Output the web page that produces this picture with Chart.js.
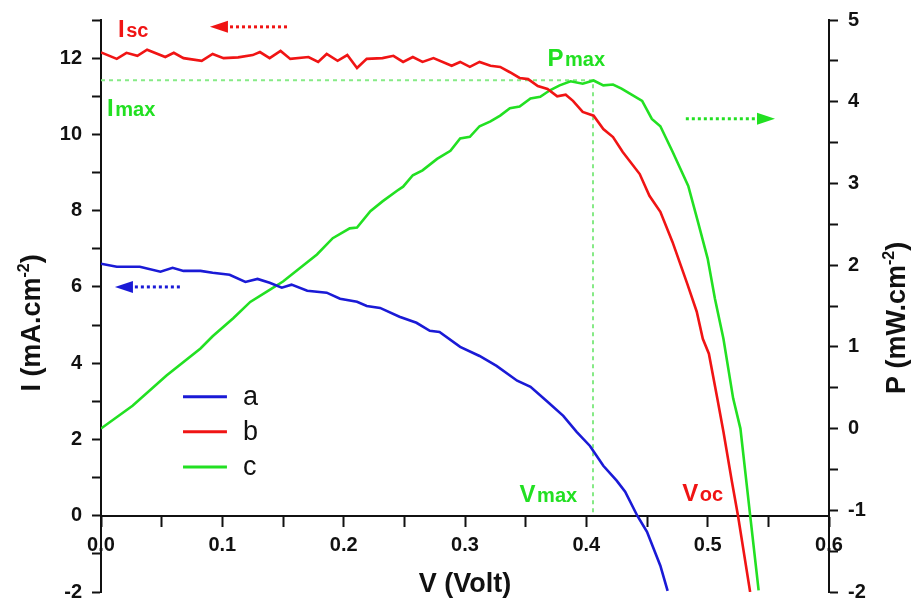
<!DOCTYPE html>
<html>
<head>
<meta charset="utf-8">
<script src="https://cdn.jsdelivr.net/npm/chart.js@4.4.1/dist/chart.umd.min.js"></script>
<style>
  html, body { margin: 0; padding: 0; background: #fff; }
</style>
</head>
<body>
<canvas id="ivChart" width="911" height="598"></canvas>
<script>
// sample a : I-V curve (left axis)
const voltsA = [0.000, 0.013, 0.032, 0.049, 0.059, 0.068, 0.082, 0.092, 0.106, 0.119, 0.129, 0.139, 0.149, 0.157, 0.170, 0.186, 0.197, 0.211, 0.219, 0.230, 0.246, 0.260, 0.271, 0.279, 0.296, 0.312, 0.326, 0.343, 0.354, 0.368, 0.381, 0.392, 0.403, 0.414, 0.425, 0.432, 0.442, 0.450, 0.461, 0.467];
const currentA = [6.61, 6.53, 6.53, 6.40, 6.50, 6.42, 6.42, 6.37, 6.32, 6.13, 6.21, 6.11, 5.98, 6.06, 5.90, 5.85, 5.69, 5.61, 5.50, 5.45, 5.22, 5.06, 4.85, 4.82, 4.43, 4.19, 3.93, 3.54, 3.38, 2.99, 2.62, 2.20, 1.83, 1.31, 0.92, 0.63, 0.00, -0.42, -1.31, -1.97];

// sample b : I-V curve (left axis)
const voltsB = [0.000, 0.013, 0.021, 0.030, 0.038, 0.053, 0.060, 0.068, 0.083, 0.092, 0.101, 0.113, 0.125, 0.131, 0.139, 0.148, 0.156, 0.171, 0.179, 0.186, 0.195, 0.203, 0.211, 0.219, 0.232, 0.241, 0.249, 0.257, 0.265, 0.274, 0.289, 0.296, 0.304, 0.312, 0.321, 0.329, 0.337, 0.345, 0.352, 0.360, 0.368, 0.376, 0.383, 0.389, 0.397, 0.406, 0.414, 0.422, 0.430, 0.444, 0.452, 0.461, 0.471, 0.483, 0.491, 0.496, 0.501, 0.508, 0.513, 0.520, 0.525, 0.535];
const currentB = [12.15, 11.98, 12.14, 12.06, 12.22, 12.03, 12.14, 12.00, 11.93, 12.11, 12.00, 12.02, 12.08, 12.16, 12.00, 12.19, 11.98, 12.03, 11.90, 12.11, 11.93, 12.08, 11.74, 11.98, 12.00, 12.06, 11.90, 12.03, 11.90, 12.00, 11.80, 11.90, 11.77, 11.90, 11.80, 11.77, 11.63, 11.48, 11.45, 11.27, 11.19, 11.00, 11.04, 10.88, 10.59, 10.49, 10.14, 9.93, 9.54, 8.96, 8.39, 7.97, 7.18, 6.10, 5.35, 4.64, 4.25, 3.07, 2.20, 0.89, 0.00, -2.00];

// sample c : P-V curve (right axis)
const voltsC = [0.000, 0.026, 0.054, 0.082, 0.092, 0.109, 0.123, 0.137, 0.150, 0.178, 0.191, 0.205, 0.211, 0.222, 0.232, 0.244, 0.249, 0.257, 0.265, 0.277, 0.288, 0.296, 0.304, 0.312, 0.321, 0.329, 0.337, 0.345, 0.354, 0.362, 0.370, 0.378, 0.387, 0.397, 0.406, 0.414, 0.422, 0.429, 0.438, 0.446, 0.454, 0.461, 0.471, 0.484, 0.492, 0.500, 0.506, 0.513, 0.521, 0.527, 0.535, 0.542];
const powerC = [0.00, 0.28, 0.65, 0.98, 1.13, 1.35, 1.55, 1.68, 1.80, 2.13, 2.33, 2.45, 2.46, 2.66, 2.78, 2.91, 2.96, 3.10, 3.16, 3.30, 3.40, 3.55, 3.57, 3.70, 3.76, 3.83, 3.92, 3.94, 4.04, 4.06, 4.14, 4.20, 4.25, 4.22, 4.26, 4.20, 4.21, 4.16, 4.08, 4.01, 3.79, 3.70, 3.39, 2.97, 2.53, 2.08, 1.59, 1.10, 0.37, 0.00, -1.06, -1.98];

// maximum power point
const vMax = 0.4055;
const iMax = 11.42;

const BLUE = '#1a1ad6';
const RED = '#f01414';
const GREEN = '#22e022';
const LIGHT_GREEN = '#86ea86';
const FONT = '"Liberation Sans", Arial, sans-serif';

// text labels, positions in data units (x = V, y = left axis I)
const labels = [
    { main: 'I', sub: 'sc', x: 0.014, y: 12.56, color: RED },
    { main: 'I', sub: 'max', x: 0.005, y: 10.48, color: GREEN },
    { main: 'P', sub: 'max', x: 0.368, y: 11.80, color: GREEN },
    { main: 'V', sub: 'max', x: 0.345, y: 0.37, color: GREEN },
    { main: 'V', sub: 'oc', x: 0.479, y: 0.39, color: RED }
];

// dotted arrows: from tail to head, in data units
const arrows = [
    { x0: 0.1533, x1: 0.0898, y: 12.82, color: RED },
    { x0: 0.0650, x1: 0.0115, y: 6.00, color: BLUE },
    { x0: 0.4820, x1: 0.5555, y: 10.41, color: GREEN }
];

function toPoints(xs, ys) {
    return xs.map((v, i) => ({ x: v, y: ys[i] }));
}

function drawSubLabel(ctx, px, py, item) {
    ctx.fillStyle = item.color;
    ctx.textAlign = 'left';
    ctx.textBaseline = 'alphabetic';
    ctx.font = 'bold 24px ' + FONT;
    ctx.fillText(item.main, px, py);
    const w = ctx.measureText(item.main).width;
    ctx.font = 'bold 20px ' + FONT;
    ctx.fillText(item.sub, px + w + 1.5, py);
}

function drawArrow(ctx, xa, xb, y, color) {
    const dir = xb > xa ? 1 : -1;
    const headLen = 18;
    ctx.save();
    ctx.strokeStyle = color;
    ctx.fillStyle = color;
    ctx.lineWidth = 3;
    ctx.setLineDash([3, 3]);
    ctx.beginPath();
    ctx.moveTo(xa, y);
    ctx.lineTo(xb - dir * headLen, y);
    ctx.stroke();
    ctx.setLineDash([]);
    ctx.beginPath();
    ctx.moveTo(xb, y);
    ctx.lineTo(xb - dir * headLen, y - 6);
    ctx.lineTo(xb - dir * headLen, y + 6);
    ctx.closePath();
    ctx.fill();
    ctx.restore();
}

function drawRotatedTitle(ctx, cx, cy, main, sup, tail) {
    ctx.save();
    ctx.translate(cx, cy);
    ctx.rotate(-Math.PI / 2);
    ctx.fillStyle = '#111';
    ctx.textAlign = 'left';
    ctx.textBaseline = 'alphabetic';
    ctx.font = 'bold 27px ' + FONT;
    const w1 = ctx.measureText(main).width;
    const w3 = ctx.measureText(tail).width;
    ctx.font = 'bold 16px ' + FONT;
    const w2 = ctx.measureText(sup).width;
    let x = -(w1 + w2 + w3) / 2;
    const base = 10;
    ctx.font = 'bold 27px ' + FONT;
    ctx.fillText(main, x, base);
    x += w1;
    ctx.font = 'bold 16px ' + FONT;
    ctx.fillText(sup, x, base - 11);
    x += w2;
    ctx.font = 'bold 27px ' + FONT;
    ctx.fillText(tail, x, base);
    ctx.restore();
}

const decorations = {
    id: 'decorations',
    afterDraw(chart) {
        const ctx = chart.ctx;
        const xs = chart.scales.x;
        const ys = chart.scales.y;
        const area = chart.chartArea;

        labels.forEach(item => {
            drawSubLabel(ctx, xs.getPixelForValue(item.x), ys.getPixelForValue(item.y), item);
        });

        arrows.forEach(a => {
            drawArrow(ctx, xs.getPixelForValue(a.x0), xs.getPixelForValue(a.x1), ys.getPixelForValue(a.y), a.color);
        });

        // legend a / b / c
        const legendSets = chart.data.datasets.filter(d => d.inLegend);
        const lx0 = xs.getPixelForValue(0.0676);
        const lx1 = xs.getPixelForValue(0.1038);
        const tx = xs.getPixelForValue(0.117);
        legendSets.forEach((d, i) => {
            const y = ys.getPixelForValue(3.12 - i * 0.92);
            ctx.save();
            ctx.strokeStyle = d.borderColor;
            ctx.lineWidth = 3;
            ctx.beginPath();
            ctx.moveTo(lx0, y);
            ctx.lineTo(lx1, y);
            ctx.stroke();
            ctx.fillStyle = '#111';
            ctx.font = '27px ' + FONT;
            ctx.textAlign = 'left';
            ctx.textBaseline = 'middle';
            ctx.fillText(d.label, tx, y + 1);
            ctx.restore();
        });

        // axis titles
        ctx.save();
        ctx.fillStyle = '#111';
        ctx.font = 'bold 27px ' + FONT;
        ctx.textAlign = 'center';
        ctx.textBaseline = 'alphabetic';
        ctx.fillText('V (Volt)', (area.left + area.right) / 2, 592);
        ctx.restore();
        drawRotatedTitle(ctx, 30, 323, 'I (mA.cm', '-2', ')');
        drawRotatedTitle(ctx, 895, 318, 'P (mW.cm', '-2', ')');
    }
};

const tickFont = { family: FONT, size: 20, weight: 'bold' };
const axisBorder = { display: true, color: '#111', width: 2 };

new Chart(document.getElementById('ivChart'), {
    type: 'line',
    data: {
        datasets: [
            { label: 'a', inLegend: true, data: toPoints(voltsA, currentA), borderColor: BLUE, yAxisID: 'y' },
            { label: 'b', inLegend: true, data: toPoints(voltsB, currentB), borderColor: RED, yAxisID: 'y' },
            { label: 'c', inLegend: true, data: toPoints(voltsC, powerC), borderColor: GREEN, yAxisID: 'y1' },
            {
                label: 'Pmax guide',
                data: [{ x: 0, y: iMax }, { x: vMax, y: iMax }, { x: vMax, y: 0 }],
                borderColor: LIGHT_GREEN,
                borderWidth: 2,
                borderDash: [4, 4],
                yAxisID: 'y'
            }
        ]
    },
    options: {
        responsive: false,
        animation: false,
        elements: {
            point: { radius: 0 },
            line: { borderWidth: 2.6, tension: 0, fill: false }
        },
        layout: { padding: { top: 20, bottom: 6, left: 0, right: 0 } },
        plugins: {
            legend: { display: false },
            tooltip: { enabled: false }
        },
        scales: {
            x: {
                type: 'linear',
                position: { y: 0 },
                min: 0,
                max: 0.6,
                border: axisBorder,
                grid: { drawOnChartArea: false, drawTicks: true, tickLength: 10, tickWidth: 2, tickColor: '#111' },
                ticks: {
                    stepSize: 0.05,
                    autoSkip: false,
                    maxRotation: 0,
                    padding: 8,
                    color: '#111',
                    font: tickFont,
                    callback: v => Math.abs(v * 10 - Math.round(v * 10)) < 1e-6 ? v.toFixed(1) : ''
                },
                afterFit: s => { s.paddingLeft = 0; s.paddingRight = 0; }
            },
            y: {
                position: 'left',
                min: -2,
                max: 13,
                border: axisBorder,
                grid: { drawOnChartArea: false, drawTicks: true, tickLength: 9, tickWidth: 2, tickColor: '#111' },
                ticks: {
                    stepSize: 1,
                    autoSkip: false,
                    padding: 10,
                    color: '#111',
                    font: tickFont,
                    callback: v => v % 2 === 0 ? v : ''
                },
                afterFit: s => { s.width = 101; s.paddingTop = 0; s.paddingBottom = 0; }
            },
            y1: {
                position: 'right',
                min: -2,
                max: 5,
                border: axisBorder,
                grid: { drawOnChartArea: false, drawTicks: true, tickLength: 9, tickWidth: 2, tickColor: '#111' },
                ticks: {
                    stepSize: 0.5,
                    autoSkip: false,
                    padding: 10,
                    color: '#111',
                    font: tickFont,
                    callback: v => Number.isInteger(v) ? v : ''
                },
                afterFit: s => { s.width = 82; s.paddingTop = 0; s.paddingBottom = 0; }
            }
        }
    },
    plugins: [decorations]
});
</script>
</body>
</html>
